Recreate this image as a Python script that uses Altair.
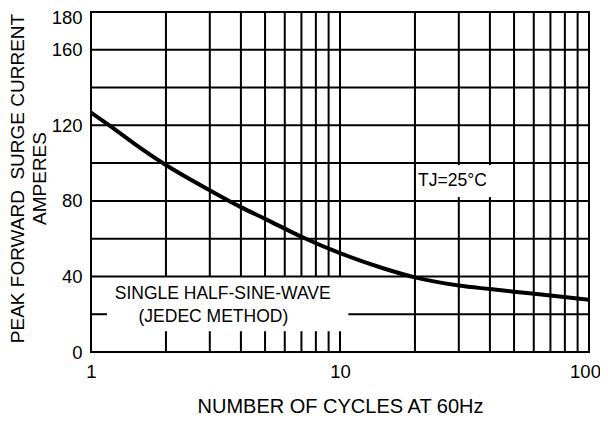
import altair as alt
import pandas as pd

# ---- data ----
cycles = [1, 1.2, 1.5, 2, 3, 4, 5, 7, 10, 15, 20, 30, 40, 50, 70, 100]
amps = [126.7, 119.4, 110.1, 99.0, 85.6, 76.7, 70.5, 61.0, 52.3, 44.2, 39.5, 35.2, 33.3, 31.9, 29.9, 27.7]

x_ticks = [1, 10, 100]
y_ticks = [0, 40, 80, 120, 160, 180]

# grid layout (log grid with gaps left for annotations)
h_full = [40, 60, 80, 100, 120, 140, 160]
h_partial = 20
h_partial_segments = [(1, 1.16), (10.8, 100)]
v_first_decade = [2, 3, 4, 5, 6, 7, 8, 9, 10]
v_first_decade_segments = [(40, 180), (0, 11)]
v_second_decade = [20, 50, 60, 70, 80, 90]
v_gap_lines = [30, 40]
v_gap_segments = [(0, 82), (99, 180)]

notes_text = ["SINGLE HALF-SINE-WAVE", "(JEDEC METHOD)", "TJ=25°C"]
notes_x = [3.38, 3.10, 28.3]
notes_y = [30.8, 18.4, 90.5]

FONT = "Liberation Sans"

# ---- build tables ----
segs = []
for y in h_full:
    segs.append({"x1": 1, "x2": 100, "y1": y, "y2": y})
for a, b in h_partial_segments:
    segs.append({"x1": a, "x2": b, "y1": h_partial, "y2": h_partial})
for x in v_first_decade:
    for a, b in v_first_decade_segments:
        segs.append({"x1": x, "x2": x, "y1": a, "y2": b})
for x in v_second_decade:
    segs.append({"x1": x, "x2": x, "y1": 0, "y2": 180})
for x in v_gap_lines:
    for a, b in v_gap_segments:
        segs.append({"x1": x, "x2": x, "y1": a, "y2": b})
seg_df = pd.DataFrame(segs)

curve_df = pd.DataFrame({"cycles": cycles, "amps": amps})
notes_df = pd.DataFrame({"text": notes_text, "x": notes_x, "y": notes_y})

x_scale = alt.Scale(type="log", domain=[1, 100], nice=False)
y_scale = alt.Scale(domain=[0, 180], nice=False, zero=True)

NB = "\u00a0"
X_TITLE = "NUMBER OF CYCLES AT 60Hz"
Y_TITLE = ["PEAK FORWARD" + NB + " SURGE CURRENT", "AMPERES" + NB * 4]

x_axis = alt.Axis(
    values=x_ticks, format="d", title=X_TITLE,
    grid=False, domain=False, ticks=False, tickSize=0, labelPadding=10,
    labelFlush=False, labelFontSize=18.5, labelFont=FONT, labelColor="black",
    labelOffset={"condition": {"test": "datum.value >= 100", "value": -4}, "value": 0},
    titleFont=FONT, titleFontSize=20, titleFontWeight="normal", titleColor="black",
    titleY=60.5, titleBaseline="alphabetic",
)
y_axis = alt.Axis(
    values=y_ticks, title=Y_TITLE,
    grid=False, domain=False, ticks=False, tickSize=0, labelPadding=9,
    labelFontSize=18.5, labelFont=FONT, labelColor="black",
    labelOffset={"condition": {"test": "datum.value >= 180", "value": 5}, "value": 0},
    titleFont=FONT, titleFontSize=19, titleFontWeight="normal", titleColor="black",
    titleLineHeight=22, titleBaseline="middle", titleX=-73.5, titleY=166,
)

grid = alt.Chart(seg_df).mark_rule(color="black", strokeWidth=2).encode(
    x=alt.X("x1:Q", scale=x_scale, axis=x_axis, title=X_TITLE),
    x2="x2:Q",
    y=alt.Y("y1:Q", scale=y_scale, axis=y_axis, title=Y_TITLE),
    y2="y2:Q",
)

curve = alt.Chart(curve_df).mark_line(
    color="black", strokeWidth=4, interpolate="monotone", clip=True
).encode(
    x=alt.X("cycles:Q", scale=x_scale, axis=x_axis, title=X_TITLE),
    y=alt.Y("amps:Q", scale=y_scale, axis=y_axis, title=Y_TITLE),
)

notes = alt.Chart(notes_df).mark_text(
    font=FONT, fontSize=17.5, color="black", align="center", baseline="middle"
).encode(
    x=alt.X("x:Q", scale=x_scale, axis=x_axis, title=X_TITLE),
    y=alt.Y("y:Q", scale=y_scale, axis=y_axis, title=Y_TITLE),
    text="text:N",
)

chart = alt.layer(grid, curve, notes).properties(
    width=498, height=340,
    autosize=alt.AutoSizeParams(type="none"),
    padding={"left": 83, "top": 4, "right": 11, "bottom": 65},
    background="white",
).configure_view(stroke="black", strokeWidth=2)

chart.save("out.html", embed_options={"renderer": "svg", "actions": False})
